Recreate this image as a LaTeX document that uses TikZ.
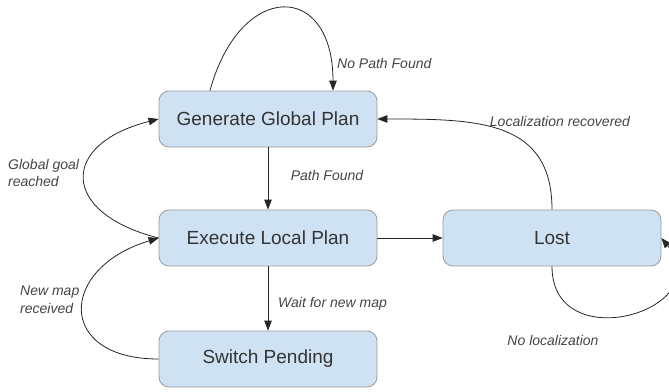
\documentclass[tikz,border=0pt]{standalone}
\usepackage{fontspec}
\setmainfont{Liberation Sans}
\usetikzlibrary{arrows.meta}
\definecolor{boxfill}{HTML}{CFE2F3}
\definecolor{boxline}{HTML}{9A9A9A}
\definecolor{txt}{HTML}{333333}
\definecolor{lbl}{HTML}{444444}
\tikzset{
  state/.style={rectangle, rounded corners=10pt, minimum width=218pt, minimum height=56pt,
    fill=boxfill, draw=boxline, line width=0.8pt, text=txt, font=\fontsize{19}{22}\selectfont},
  lab/.style={text=lbl, font=\fontsize{14}{17.5}\selectfont\itshape, inner sep=0pt},
  arr/.style={draw=black!85, line width=0.8pt, -{Triangle[length=10pt,width=7.5pt]}}
}
\begin{document}
\begin{tikzpicture}[x=1pt,y=-1pt]
\useasboundingbox (0,0) rectangle (669,391);
\node[state] (ggp) at (268,119) {Generate Global Plan};
\node[state] (elp) at (268,238) {Execute Local Plan};
\node[state] (sp) at (268,359) {Switch Pending};
\node[state] (lost) at (552,238) {Lost};

\draw[arr] (ggp) -- (elp);
\draw[arr] (elp) -- (sp);
\draw[arr] (elp) -- (lost);
\draw[arr] ([xshift=-58pt]ggp.north) .. controls +(30,-110) and +(0,-110) .. ([xshift=65pt]ggp.north);
\draw[arr] (lost.north) .. controls +(0,-90) and +(100,0) .. (ggp.east);
\draw[arr] (lost.south) .. controls +(0,93) and +(59,72) .. (lost.east);
\draw[arr] (elp.west) .. controls +(-99,-25) and +(-99,25) .. (ggp.west);
\draw[arr] (sp.west) .. controls +(-103,0) and +(-100,30) .. (elp.west);

\node[lab, anchor=west] (l1) at (337,63) {No Path Found};
\node[lab] (l2) at (327,175) {Path Found};
\node[lab] (l3) at (560,121) {Localization recovered};
\node[lab, anchor=west, align=left] (l4) at (8,173) {Global goal\\reached};
\node[lab, anchor=west, align=left] (l5) at (20,300) {New map\\received};
\node[lab, anchor=west] (l6) at (278,304) {Wait for new map};
\node[lab] (l7) at (553,340) {No localization};
\end{tikzpicture}
\end{document}
